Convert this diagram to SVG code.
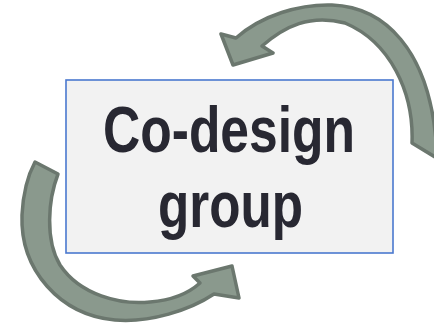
<svg xmlns="http://www.w3.org/2000/svg" width="434" height="327" viewBox="0 0 434 327">
<style>
.arrow{fill:#8a998d;stroke:#6b776e;stroke-width:3.5;stroke-linejoin:round}
.box{fill:#f2f2f2;stroke:#4a78cf;stroke-width:1.6}
.label{font-family:"Liberation Sans",Arial,sans-serif;font-weight:bold;font-size:64px;fill:#282832;text-anchor:middle}
</style>
<rect width="434" height="327" fill="#ffffff"/>
<g id="connectors">
<path id="arrow-top" class="arrow" d="M 233,65 L 221,34 L 236,38 C 262,15 300,4 332,5 C 385,7 428,50 436,140 L 440,160 L 412,143 C 414,92 390,42 345,23 C 310,14 285,26 262,46 L 273,53 Z"/>
<path id="arrow-bottom" class="arrow" d="M 232,266 L 239,298 L 214,294 C 190,310 150,323 115,320 C 60,315 20,270 22,215 C 23,195 28,175 35,162 L 58,174 C 48,200 45,240 60,265 C 80,295 120,305 150,302 C 175,300 190,292 200,283 L 193,276 Z"/>
</g>
<g id="node-codesign">
<rect class="box" x="66" y="80" width="327" height="173"/>
<text class="label" x="229" y="152" textLength="252" lengthAdjust="spacingAndGlyphs">Co-design</text>
<text class="label" x="230.5" y="227" textLength="145" lengthAdjust="spacingAndGlyphs">group</text>
</g>
</svg>
